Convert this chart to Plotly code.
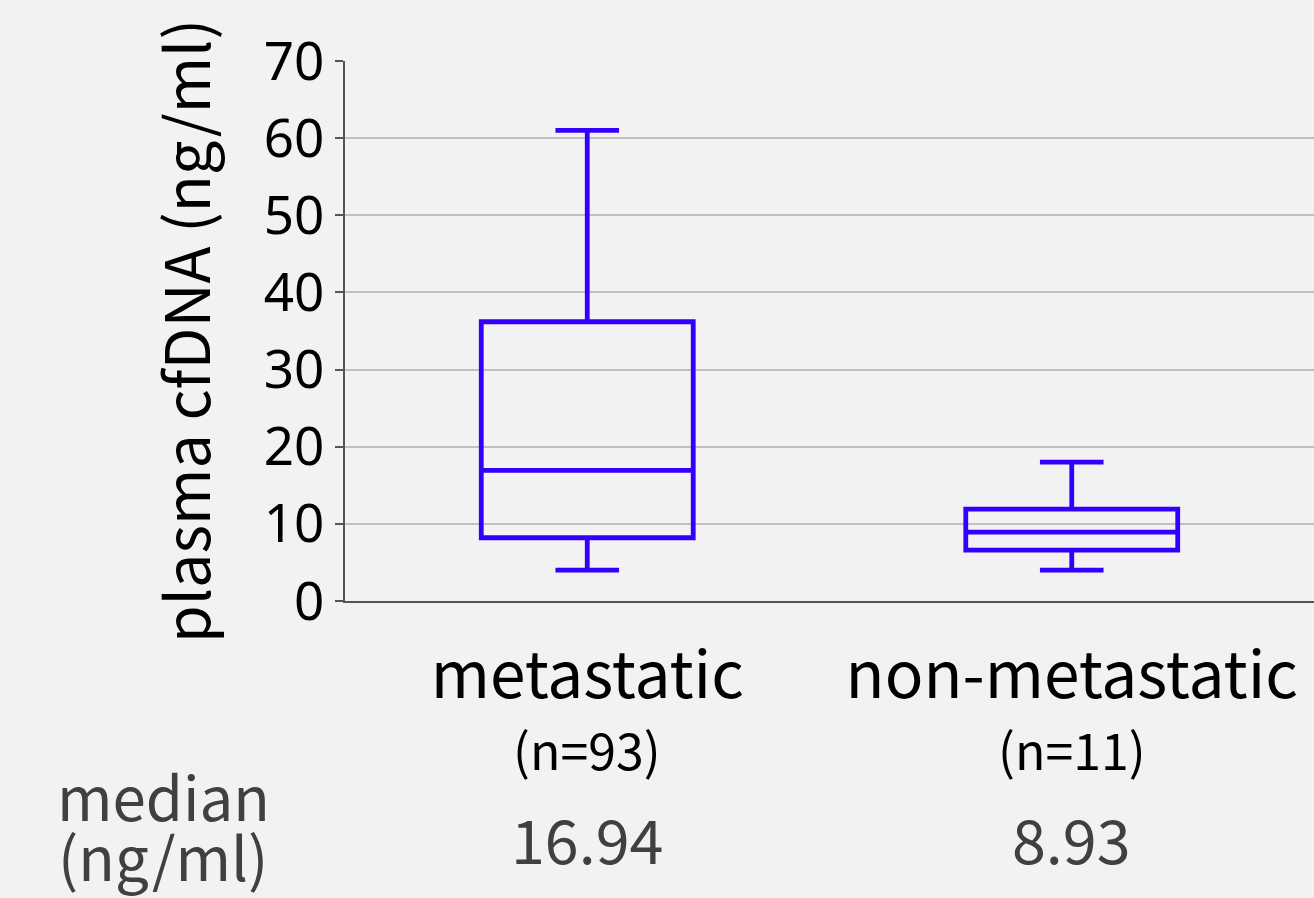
import plotly.graph_objects as go

categories = ["metastatic", "non-metastatic"]
n_labels = ["(n=93)", "(n=11)"]
lower_whisker = [4.0, 4.0]
q1 = [8.2, 6.6]
median = [16.94, 8.93]
q3 = [36.2, 11.9]
upper_whisker = [61.0, 18.0]
median_text = ["16.94", "8.93"]
y_ticks = [0, 10, 20, 30, 40, 50, 60, 70]

BLUE = "#3300ff"
FONT = "Noto Sans CJK JP"

fig = go.Figure()
fig.add_trace(go.Box(
    x=categories,
    q1=q1, median=median, q3=q3,
    lowerfence=lower_whisker, upperfence=upper_whisker,
    line=dict(color=BLUE, width=4.8),
    fillcolor="rgba(0,0,0,0)",
    whiskerwidth=0.3,
    boxpoints=False,
    showlegend=False,
    hoverinfo="skip",
))

W, H = 1314, 898
ml, mr, mt_, mb = 345, 0, 61, 297
pw, ph = W - ml - mr, H - mt_ - mb


def py(pix):
    return (H - mb - pix) / ph


def px(pix):
    return (pix - ml) / pw


annotations = []
for cat, nl, mt in zip(categories, n_labels, median_text):
    annotations.append(dict(x=cat, xref="x", y=py(748), yref="paper", text=nl,
                            showarrow=False, font=dict(family=FONT, size=50, color="#000000"),
                            yanchor="middle", xanchor="center"))
    annotations.append(dict(x=cat, xref="x", y=py(837), yref="paper", text=mt,
                            showarrow=False, font=dict(family=FONT, size=61, color="#404040"),
                            yanchor="middle", xanchor="center"))
annotations.append(dict(x=px(163), xref="paper", y=py(794), yref="paper", text="median",
                        showarrow=False, font=dict(family=FONT, size=60, color="#404040"),
                        yanchor="middle", xanchor="center"))
annotations.append(dict(x=px(163), xref="paper", y=py(854), yref="paper", text="(ng/ml)",
                        showarrow=False, font=dict(family=FONT, size=60, color="#404040"),
                        yanchor="middle", xanchor="center"))

fig.update_layout(
    width=W, height=H,
    margin=dict(l=ml, r=mr, t=mt_, b=mb),
    paper_bgcolor="#f2f2f2",
    plot_bgcolor="#f2f2f2",
    boxgap=0.5625,
    boxgroupgap=0,
    annotations=annotations,
    font=dict(family=FONT, color="#000000"),
)
fig.update_xaxes(
    type="category",
    showline=True, linecolor="#555555", linewidth=2,
    showgrid=False, ticks="",
    tickfont=dict(family=FONT, size=64, color="#000000"),
    ticklabelstandoff=18,
)
fig.update_yaxes(
    range=[0, 70],
    tickvals=y_ticks,
    showline=True, linecolor="#555555", linewidth=2,
    showgrid=True, gridcolor="#c0c0c0", gridwidth=1.5,
    ticks="outside", ticklen=8, tickcolor="#555555", tickwidth=2,
    tickfont=dict(family="Noto Sans", size=53, color="#000000"),
    zeroline=False,
    title=dict(text="plasma cfDNA (ng/ml)", font=dict(family=FONT, size=61, color="#000000"), standoff=33),
)

fig.write_html("out.html", config={"displayModeBar": False})

with open("out.html", "r", encoding="utf-8") as f:
    html = f.read()
html = html.replace("<head>", "<head><style>html,body{margin:0;padding:0;background:#f2f2f2;}</style>", 1)
with open("out.html", "w", encoding="utf-8") as f:
    f.write(html)
